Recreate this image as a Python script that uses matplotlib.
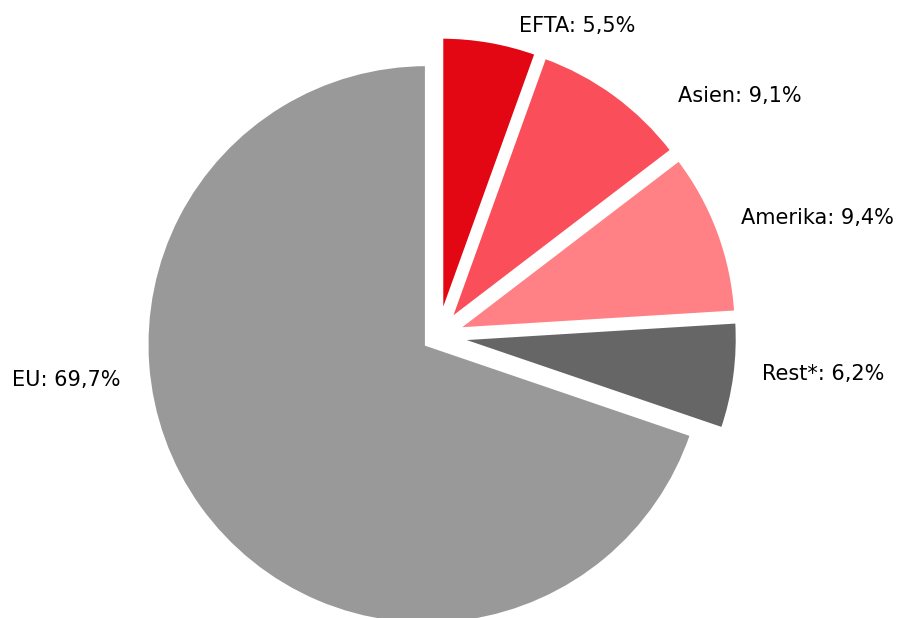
import matplotlib
matplotlib.use("Agg")
import matplotlib.pyplot as plt

# ---- data ----
categories = ["EFTA", "Asien", "Amerika", "Rest*", "EU"]
shares = [5.5, 9.1, 9.4, 6.2, 69.7]
colors = ["#E30613", "#FA4E5A", "#FF8085", "#666666", "#999999"]

W, H = 898, 618
fig = plt.figure(figsize=(W / 100, H / 100), dpi=100)
ax = fig.add_axes([0, 0, 1, 1])

R = 280.0
center = (438.1, H - 336.2)
explode_frac = [0.07, 0.07, 0.07, 0.07, 0.05]
explode = [f * R for f in explode_frac]

ax.pie(shares, colors=colors, startangle=90, counterclock=False,
       radius=R, center=center, explode=explode,
       wedgeprops=dict(edgecolor="white", linewidth=2.6))

ax.set_xlim(0, W)
ax.set_ylim(0, H)
ax.set_aspect("equal")
ax.axis("off")

def fmt(cat, v):
    return f"{cat}: {v:.1f}".replace(".", ",") + "%"

# label anchor points (left x, baseline y in screen px)
label_pos = [(519, 32), (678, 102), (741, 223.5), (762, 379.5), (12.5, 386)]
for cat, v, (lx, ly) in zip(categories, shares, label_pos):
    ax.text(lx, H - ly, fmt(cat, v), ha="left", va="baseline",
            fontsize=15, family="DejaVu Sans", color="black")

fig.savefig("out.png", dpi=100)
